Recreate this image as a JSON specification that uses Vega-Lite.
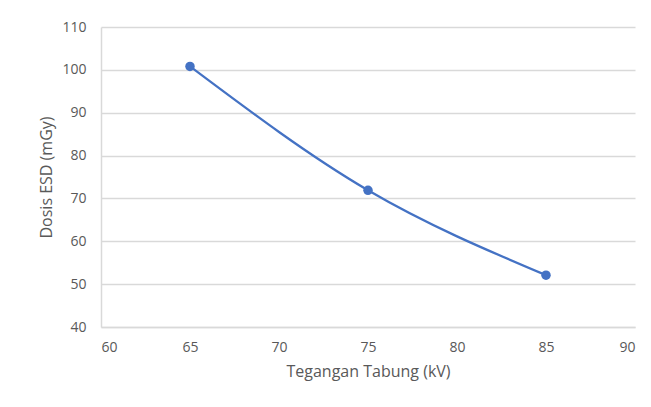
{
  "$schema": "https://vega.github.io/schema/vega-lite/v6.json",
  "autosize": "none",
  "width": 534,
  "height": 300,
  "padding": {"left": 101, "top": 27, "right": 16, "bottom": 80},
  "background": "white",
  "config": {
    "font": "Open Sans",
    "view": {"stroke": null},
    "axis": {"labelFont": "Open Sans", "titleFont": "Open Sans", "labelColor": "#595959", "titleColor": "#595959", "labelFontSize": 14, "titleFontSize": 16, "titleFontWeight": "normal"}
  },
  "data": {"values": [
    {"kV": 65, "ESD": 100.8},
    {"kV": 75, "ESD": 71.9},
    {"kV": 85, "ESD": 52.1}
  ]},
  "encoding": {
    "x": {"field": "kV", "type": "quantitative", "title": "Tegangan Tabung (kV)",
      "scale": {"domain": [60, 90], "nice": false, "zero": false},
      "axis": {"values": [60, 65, 70, 75, 80, 85, 90], "grid": false, "domain": true, "domainColor": "#d9d9d9", "domainWidth": 1.5, "ticks": false, "labelPadding": 13, "titlePadding": 9}},
    "y": {"field": "ESD", "type": "quantitative", "title": "Dosis ESD (mGy)",
      "scale": {"domain": [40, 110], "nice": false, "zero": false},
      "axis": {"values": [40, 50, 60, 70, 80, 90, 100, 110], "grid": true, "gridColor": "#d9d9d9", "gridWidth": 1.5, "domain": true, "domainColor": "#d9d9d9", "domainWidth": 1.5, "ticks": false, "labelPadding": 15, "titlePadding": 7}}
  },
  "layer": [
    {"mark": {"type": "line", "interpolate": "monotone", "color": "#4472C4", "strokeWidth": 2.25}},
    {"mark": {"type": "point", "filled": true, "color": "#4472C4", "size": 90, "opacity": 1}}
  ]
}
